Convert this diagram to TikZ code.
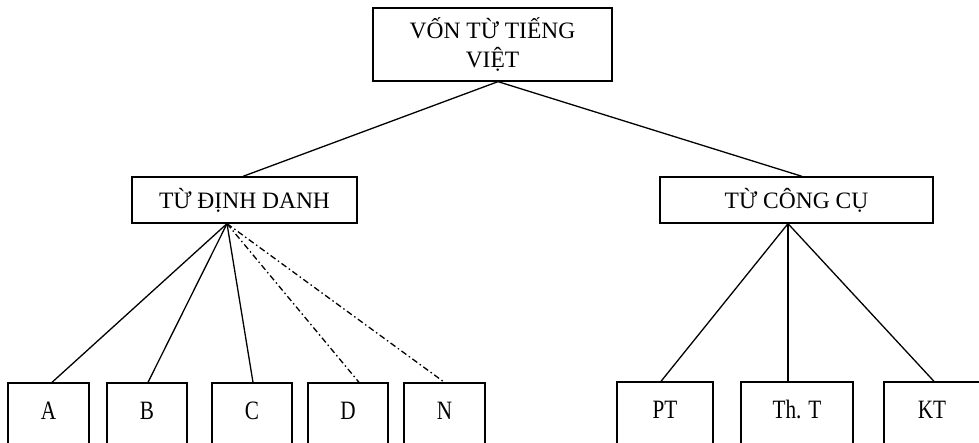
\documentclass[tikz,border=0pt]{standalone}
\usepackage{fontspec}
\setmainfont{Liberation Serif}
\newfontfamily\leaffont[FakeStretch=0.8]{Liberation Serif}
\usepackage{tikz}
\usepackage{xcolor}

\tikzset{
  wbox/.style={draw, line width=1.3pt, inner sep=0pt, align=center,
    font=\fontsize{23.5}{29}\selectfont},
  leaf/.style={draw, line width=1.3pt, inner sep=0pt, minimum height=63pt,
    text height=18pt, text depth=7.5pt,
    font=\leaffont\fontsize{26.5}{30}\selectfont},
  dd/.style={line width=1.3pt, dash pattern=on 6pt off 3pt on 1.5pt off 3pt}
}

\begin{document}
\begin{tikzpicture}[x=1pt,y=-1pt]
\useasboundingbox (0,0) rectangle (979,443);

\node [wbox, minimum width=239pt, minimum height=73pt] (goc) at (492.5,44.5) {V\'{Ô}N T\`{Ư} TI\'{Ê}NG\\VIỆT};
\node [wbox, minimum width=225pt, minimum height=46pt] (ddanh) at (244.5,200) {TỪ ĐỊNH DANH};
\node [wbox, minimum width=273pt, minimum height=46pt] (ccu) at (796.5,200) {TỪ CÔNG CỤ};

\node [leaf, minimum width=81pt] (a) at (48.5,414.5) {A};
\node [leaf, minimum width=80pt] (b) at (147,414.5) {B};
\node [leaf, minimum width=80pt] (c) at (252,414.5) {C};
\node [leaf, minimum width=80pt] (d) at (348,414.5) {D};
\node [leaf, minimum width=81pt] (n) at (444.5,414.5) {N};

\node [leaf, minimum width=96pt] (pt) at (665,413.5) {PT};
\node [leaf, minimum width=112pt] (tht) at (797,413.5) {Th. T};
\node [leaf, minimum width=96pt] (kt) at (932,413.5) {KT};

\draw [line width=1.3pt] ([xshift=5.5pt]goc.south) -- ([xshift=-1.5pt]ddanh.north);
\draw [line width=1.3pt] ([xshift=5.5pt]goc.south) -- ([xshift=5.5pt]ccu.north);

\draw [line width=1.3pt] ([xshift=-17.5pt]ddanh.south) -- ([xshift=3.5pt]a.north);
\draw [line width=1.3pt] ([xshift=-17.5pt]ddanh.south) -- ([xshift=1pt]b.north);
\draw [line width=1.3pt] ([xshift=-17.5pt]ddanh.south) -- ([xshift=1pt]c.north);
\draw [dd] ([xshift=-17.5pt]ddanh.south) -- ([xshift=11pt]d.north);
\draw [dd] ([xshift=-17.5pt]ddanh.south) -- (n.north);

\draw [line width=1.3pt] ([xshift=-8.5pt]ccu.south) -- ([xshift=-4pt]pt.north);
\draw [line width=1.3pt] ([xshift=-8.5pt]ccu.south) -- ([xshift=-9pt]tht.north);
\draw [line width=1.3pt] ([xshift=-8.5pt]ccu.south) -- ([xshift=2pt]kt.north);
\end{tikzpicture}
\end{document}
